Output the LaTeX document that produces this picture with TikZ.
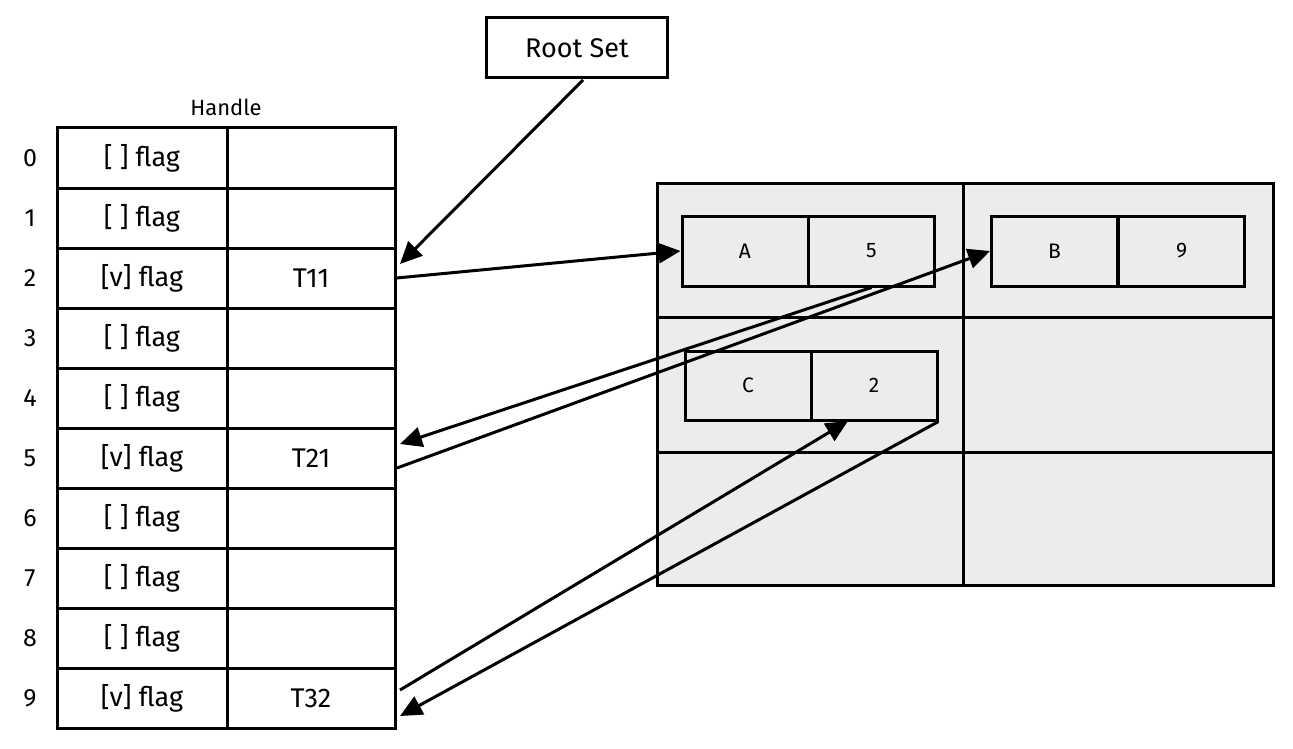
\documentclass[tikz,border=0pt]{standalone}
\usepackage{fontspec}
\setmainfont{Fira Sans}
\usetikzlibrary{arrows.meta}
\begin{document}
\begin{tikzpicture}[x=1pt,y=-1pt,
  cell/.style={draw,line width=3pt,minimum height=60pt,inner sep=0pt,font=\fontsize{27}{29}\selectfont},
  sc/.style={draw,line width=3pt,minimum height=70pt,minimum width=126pt,inner sep=0pt,font=\fontsize{21}{23}\selectfont},
  arr/.style={line width=3pt,-{Triangle[length=22pt,width=20pt]}}]
\useasboundingbox (0,0) rectangle (1293,749);
\fill[gray!15] (657,183) rectangle (1273,585);
\draw[line width=3pt] (657,183) rectangle (1273,585) (963,183)--(963,585) (657,317)--(1273,317) (657,452)--(1273,452);
\node[draw,line width=3pt,minimum width=181pt,minimum height=60pt,font=\fontsize{27}{29}\selectfont] (root) at (577,48) {Root Set};
\node[font=\fontsize{22}{24}\selectfont] (hd) at (226,107) {Handle};
\foreach \i/\f/\t in {0/[ ]/,1/[ ]/,2/[v]/T11,3/[ ]/,4/[ ]/,5/[v]/T21,6/[ ]/,7/[ ]/,8/[ ]/,9/[v]/T32}{
  \node[cell,minimum width=170pt] (l\i) at (142,158+60*\i) {\f\ flag};
  \node[cell,minimum width=168pt] (r\i) at (311,158+60*\i) {\t};
  \node[font=\fontsize{25}{27}\selectfont] (n\i) at (30,158+60*\i) {\i};
}
\node[sc] (A) at (745,251) {A}; \node[sc] (A5) at (871.5,251) {5};
\node[sc] (B) at (1054.5,251) {B}; \node[sc] (B9) at (1181.5,251) {9};
\node[sc,minimum height=69pt] (C) at (748,385.5) {C}; \node[sc,minimum height=69pt] (C2) at (874,385.5) {2};
\coordinate (rs) at (583,80);
\coordinate (c2b) at (848,421);
\coordinate (t11in) at (400,264);
\coordinate (t21in) at (400,444);
\coordinate (t21out) at (397,468);
\coordinate (t32in) at (400,716);
\coordinate (t32out) at (400,690);
\draw[arr] (rs) -- (t11in);
\draw[arr] (r2.east) -- (A.west);
\draw[arr] (A5.south) -- (t21in);
\draw[arr] (t21out) -- (B.west);
\draw[arr] (C2.south east) -- (t32in);
\draw[arr] (t32out) -- (c2b);
\end{tikzpicture}
\end{document}
